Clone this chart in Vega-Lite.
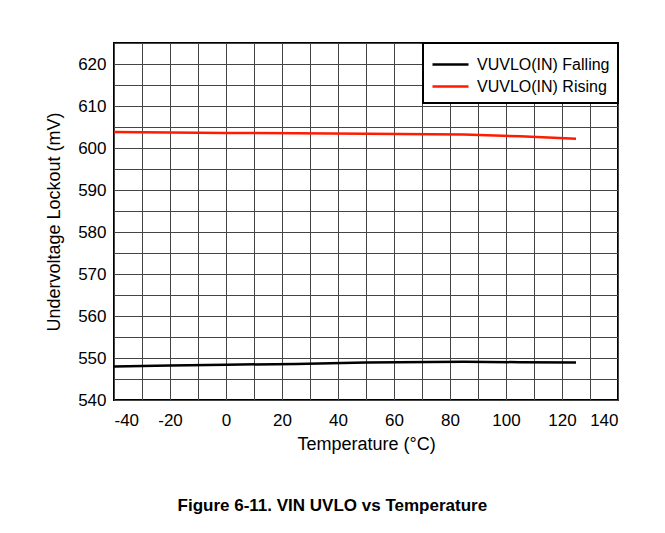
{
  "$schema": "https://vega.github.io/schema/vega-lite/v6.json",
  "width": 504,
  "height": 357,
  "autosize": {"type": "none"},
  "padding": {"left": 114, "top": 43, "right": 47, "bottom": 133},
  "background": "white",
  "title": {
    "text": "Figure 6-11. VIN UVLO vs Temperature",
    "orient": "bottom",
    "anchor": "middle",
    "frame": "bounds",
    "font": "Liberation Sans",
    "fontSize": 17,
    "fontWeight": "bold",
    "color": "black",
    "offset": 45
  },
  "data": {
    "values": [
      {"temp": -40, "uvlo": 548.0, "series": "VUVLO(IN) Falling"},
      {"temp": -20, "uvlo": 548.2, "series": "VUVLO(IN) Falling"},
      {"temp": 0, "uvlo": 548.4, "series": "VUVLO(IN) Falling"},
      {"temp": 25, "uvlo": 548.6, "series": "VUVLO(IN) Falling"},
      {"temp": 50, "uvlo": 548.9, "series": "VUVLO(IN) Falling"},
      {"temp": 85, "uvlo": 549.1, "series": "VUVLO(IN) Falling"},
      {"temp": 105, "uvlo": 549.0, "series": "VUVLO(IN) Falling"},
      {"temp": 125, "uvlo": 548.9, "series": "VUVLO(IN) Falling"},
      {"temp": -40, "uvlo": 603.8, "series": "VUVLO(IN) Rising"},
      {"temp": -20, "uvlo": 603.7, "series": "VUVLO(IN) Rising"},
      {"temp": 0, "uvlo": 603.6, "series": "VUVLO(IN) Rising"},
      {"temp": 25, "uvlo": 603.5, "series": "VUVLO(IN) Rising"},
      {"temp": 50, "uvlo": 603.4, "series": "VUVLO(IN) Rising"},
      {"temp": 85, "uvlo": 603.2, "series": "VUVLO(IN) Rising"},
      {"temp": 105, "uvlo": 602.8, "series": "VUVLO(IN) Rising"},
      {"temp": 125, "uvlo": 602.2, "series": "VUVLO(IN) Rising"}
    ]
  },
  "mark": {"type": "line", "strokeWidth": 2.5, "clip": true},
  "encoding": {
    "x": {
      "field": "temp",
      "type": "quantitative",
      "scale": {"domain": [-40, 140], "nice": false, "zero": false},
      "axis": {
        "title": "Temperature (°C)",
        "values": [-40, -30, -20, -10, 0, 10, 20, 30, 40, 50, 60, 70, 80, 90, 100, 110, 120, 130, 140],
        "labelExpr": "datum.value % 20 === 0 ? '' + datum.value : ''",
        "grid": true,
        "ticks": false,
        "domain": false,
        "labelPadding": 12,
        "titlePadding": 7
      }
    },
    "y": {
      "field": "uvlo",
      "type": "quantitative",
      "scale": {"domain": [540, 625], "nice": false, "zero": false},
      "axis": {
        "title": "Undervoltage Lockout (mV)",
        "values": [540, 545, 550, 555, 560, 565, 570, 575, 580, 585, 590, 595, 600, 605, 610, 615, 620, 625],
        "labelExpr": "datum.value % 10 === 0 ? '' + datum.value : ''",
        "grid": true,
        "ticks": false,
        "domain": false,
        "labelPadding": 8,
        "titlePadding": 14
      }
    },
    "color": {
      "field": "series",
      "type": "nominal",
      "scale": {"domain": ["VUVLO(IN) Falling", "VUVLO(IN) Rising"], "range": ["#000000", "#ff1a00"]},
      "legend": {
        "title": null,
        "orient": "top-right",
        "offset": 0,
        "fillColor": "white",
        "strokeColor": "black",
        "padding": 8,
        "symbolType": "M-1.5,0H1.5",
        "symbolSize": 576,
        "symbolStrokeWidth": 2.5,
        "symbolOffset": 6,
        "symbolFillColor": "transparent",
        "labelFontSize": 16,
        "labelFont": "Liberation Sans",
        "labelColor": "black",
        "labelOffset": 13,
        "rowPadding": 0,
        "labelLimit": 300,
        "encode": {"legend": {"update": {"strokeWidth": {"value": 2}}}}
      }
    }
  },
  "config": {
    "view": {"stroke": "black", "strokeWidth": 2},
    "axis": {
      "labelFont": "Liberation Sans",
      "labelFontSize": 17,
      "labelColor": "black",
      "titleFont": "Liberation Sans",
      "titleFontSize": 18,
      "titleFontWeight": "normal",
      "titleColor": "black",
      "gridColor": "#444444",
      "gridOpacity": 1,
      "gridWidth": 1
    }
  }
}
